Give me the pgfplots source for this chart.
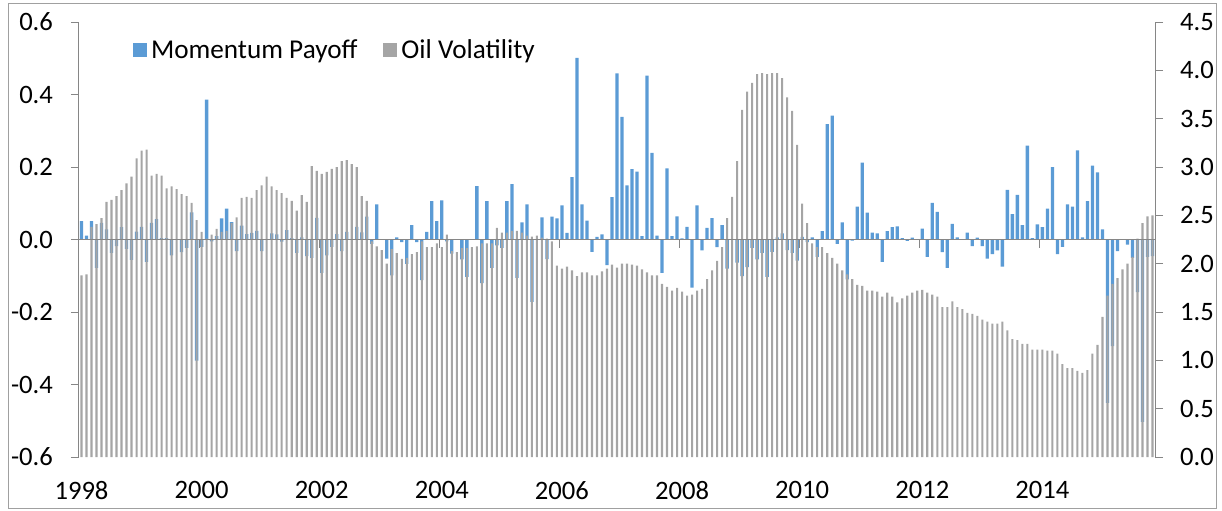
\documentclass[border=0pt]{standalone}
\usepackage{pgfplots}
\pgfplotsset{compat=1.18}
\usepackage{pgfplotstable}
\usepackage{fontspec}
\setmainfont{Carlito}
\definecolor{momblue}{HTML}{5B9BD5}
\definecolor{oilgray}{HTML}{A5A5A5}
\definecolor{axgray}{HTML}{868686}
\definecolor{framegray}{HTML}{A0A0A0}

\pgfplotstableread{
mom oil
0.051 1.88
0.011 1.89
0.051 2.38
-0.078 2.41
0.046 2.47
0.028 2.64
-0.037 2.66
-0.018 2.70
0.034 2.76
-0.026 2.83
-0.056 2.90
0.022 3.09
0.035 3.17
-0.062 3.18
0.046 2.91
0.056 2.93
0.004 2.91
0.004 2.78
-0.044 2.80
0.0 2.77
-0.035 2.72
-0.023 2.70
0.075 2.63
-0.334 2.45
-0.020 2.33
0.386 2.26
-0.005 2.30
0.009 2.36
0.058 2.33
0.085 2.34
0.048 2.42
-0.032 2.48
0.038 2.68
0.015 2.69
0.018 2.68
0.024 2.76
-0.032 2.81
0.0 2.90
0.017 2.80
0.014 2.76
-0.006 2.73
0.026 2.68
0.004 2.65
-0.037 2.55
0.006 2.71
-0.046 2.64
-0.051 3.01
0.060 2.96
-0.092 2.93
-0.044 2.95
-0.020 2.98
0.015 3.00
-0.032 3.06
0.021 3.07
0.0 3.03
0.035 3.00
0.020 2.70
0.063 2.65
-0.012 2.23
0.097 2.18
0.0 2.14
-0.053 2.00
-0.099 2.15
0.006 2.11
-0.007 2.05
-0.067 2.06
0.040 2.10
-0.007 2.12
-0.112 2.23
0.021 2.17
0.106 2.17
0.051 2.21
0.108 2.17
-0.005 2.30
-0.039 2.13
0.0 2.12
-0.055 2.16
-0.103 2.16
0.0 2.17
0.147 2.18
-0.120 2.21
0.106 2.21
-0.078 2.21
-0.016 2.37
-0.023 2.32
0.106 2.32
0.153 2.34
-0.106 2.34
0.047 2.32
0.097 2.29
-0.172 2.28
0.0 2.29
0.061 2.27
-0.054 2.26
0.063 2.23
0.058 1.98
0.094 1.95
0.018 1.97
0.172 1.93
0.501 1.87
0.097 1.91
0.052 1.91
-0.034 1.88
0.007 1.88
0.014 1.92
-0.071 1.95
0.117 1.99
0.458 1.96
0.338 2.00
0.149 2.00
0.194 1.99
0.187 1.98
0.009 1.94
0.452 1.91
0.239 1.88
0.011 1.88
-0.092 1.79
0.196 1.76
0.009 1.72
0.064 1.75
0.003 1.71
0.035 1.67
-0.133 1.68
0.094 1.72
-0.030 1.74
0.032 1.84
0.059 1.93
-0.021 2.03
0.040 2.17
-0.080 2.47
0.0 2.69
-0.064 3.06
-0.101 3.59
-0.076 3.78
-0.023 3.87
-0.055 3.96
-0.037 3.97
-0.103 3.96
-0.034 3.97
0.006 3.97
0.017 3.92
-0.029 3.72
-0.037 3.58
-0.058 3.23
0.007 2.62
-0.007 2.42
0.006 2.21
-0.048 2.17
0.023 2.17
0.318 2.11
0.342 2.06
-0.012 2.00
0.047 1.93
-0.110 1.89
-0.003 1.84
0.091 1.78
0.212 1.77
0.074 1.72
0.019 1.72
0.017 1.71
-0.062 1.66
0.023 1.70
0.034 1.66
0.036 1.60
0.004 1.64
-0.004 1.67
0.005 1.70
0.0 1.72
0.030 1.73
-0.048 1.70
0.101 1.68
0.076 1.66
-0.035 1.55
-0.078 1.55
0.043 1.61
0.006 1.55
0.0 1.53
0.019 1.49
-0.018 1.48
0.005 1.46
-0.018 1.42
-0.053 1.40
-0.040 1.38
-0.030 1.38
-0.075 1.40
0.137 1.31
0.070 1.22
0.123 1.21
0.040 1.17
0.259 1.17
0.004 1.11
0.042 1.11
0.034 1.11
0.085 1.10
0.200 1.10
-0.040 1.07
-0.020 0.96
0.097 0.92
0.091 0.92
0.246 0.89
0.006 0.87
0.106 0.90
0.204 1.07
0.185 1.16
0.028 1.45
-0.451 1.67
-0.294 1.79
-0.032 1.85
0.0 1.94
-0.014 2.00
-0.051 2.07
-0.145 2.26
-0.503 2.42
-0.048 2.49
-0.046 2.50
}\datatable

\begin{document}
\begin{tikzpicture}
\useasboundingbox (0pt,0pt) rectangle (611pt,255pt);
\draw[framegray, line width=0.5pt] (4pt,1pt) rectangle (608.3pt,253pt);
\begin{axis}[
  at={(39.5pt,26.5pt)}, anchor=south west,
  scale only axis, width=538pt, height=217.5pt,
  xmin=-0.5, xmax=214.5, ymin=-0.6, ymax=0.6,
  axis y line*=left, axis x line*=bottom,
  x axis line style={draw=none},
  xtick={0,24,48,72,96,120,144,168,192},
  xticklabels={1998,2000,2002,2004,2006,2008,2010,2012,2014},
  major x tick style={draw=none},
  ytick={-0.6,-0.4,-0.2,0,0.2,0.4,0.6},
  yticklabels={-0.6,-0.4,-0.2,0.0,0.2,0.4,0.6},
  tick align=outside, major tick length=4pt,
  y axis line style={axgray, line width=0.5pt},
  major y tick style={axgray, line width=0.5pt},
  ticklabel style={font=\fontsize{13.3}{15}\selectfont, text=black},
  xticklabel style={yshift=-4.5pt},
  yticklabel style={xshift=-5.5pt},
  ybar, bar width=0.66, bar shift=0pt,
]
\addplot[fill=momblue, draw=none] table[x expr=\coordindex, y=mom]{\datatable};
\end{axis}
\begin{axis}[
  at={(39.5pt,26.5pt)}, anchor=south west,
  scale only axis, width=538pt, height=217.5pt,
  xmin=-0.5, xmax=214.5, ymin=0, ymax=4.5,
  axis y line*=right, hide x axis,
  ytick={0,0.5,1,1.5,2,2.5,3,3.5,4,4.5},
  yticklabels={0.0,0.5,1.0,1.5,2.0,2.5,3.0,3.5,4.0,4.5},
  tick align=outside, major tick length=4pt,
  y axis line style={axgray, line width=0.5pt},
  major y tick style={axgray, line width=0.5pt},
  ticklabel style={font=\fontsize{13.3}{15}\selectfont, text=black},
  yticklabel style={xshift=5pt},
  ybar, bar width=0.42, bar shift=0pt,
  legend columns=2,
  legend image code/.code={\fill[#1] (0pt,-3.5pt) rectangle (7pt,3.5pt);},
  legend style={at={(0.0499,0.935)}, anchor=west, draw=none, fill=none,
    inner sep=0pt, font=\fontsize{13.6}{15}\selectfont,
    /tikz/every even column/.append style={column sep=11pt}},
]
\addlegendimage{fill=momblue, draw=none}
\addlegendentry{Momentum Payoff}
\addplot[fill=oilgray, draw=none] table[x expr=\coordindex, y=oil]{\datatable};
\addlegendentry{Oil Volatility}
\draw[axgray, line width=0.6pt] (axis cs:-0.5,2.25) -- (axis cs:214.5,2.25);
\pgfplotsinvokeforeach{23.5,47.5,71.5,95.5,119.5,143.5,167.5,191.5}{
  \draw[axgray, line width=0.5pt] (axis cs:#1,2.25) -- ++(0pt,-4pt);
}
\end{axis}
\end{tikzpicture}
\end{document}
